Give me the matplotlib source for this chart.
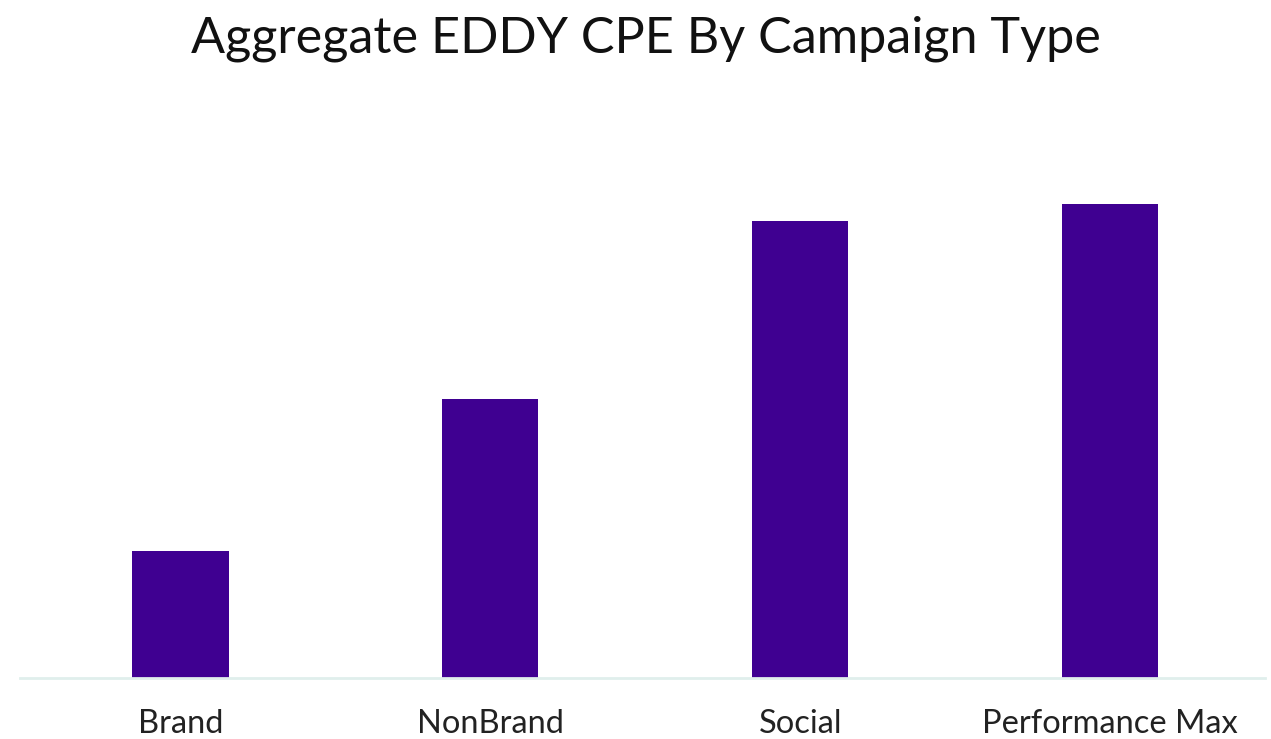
import matplotlib
matplotlib.use("Agg")
import matplotlib.pyplot as plt

campaigns = ["Brand", "NonBrand", "Social", "Performance Max"]
cpe = [12.7, 27.9, 45.7, 47.4]

plt.rcParams['font.family'] = ['Lato', 'DejaVu Sans']

W, H = 1271, 739
fig = plt.figure(figsize=(W / 100, H / 100), dpi=100)
ax = fig.add_axes([20 / W, 1 - 678 / H, 1245 / W, (678 - 150) / H])

ax.bar(range(len(campaigns)), cpe, width=0.31, color="#3f0091")
ax.set_xlim(-0.518, 3.5)
ax.set_ylim(0, 52.8)

for s in ["top", "right", "left"]:
    ax.spines[s].set_visible(False)
ax.spines["bottom"].set_color("#e0efec")
ax.spines["bottom"].set_linewidth(2)
ax.set_yticks([])
ax.set_xticks(range(len(campaigns)))
ax.set_xticklabels(campaigns, fontsize=23.5, color="#222222")
ax.tick_params(axis="x", length=0, pad=22)

fig.text(646 / W, 1 - 53 / H, "Aggregate EDDY CPE By Campaign Type",
         ha="center", va="baseline", fontsize=36.3, color="#111111")

fig.savefig("out.png", dpi=100, facecolor="white")
